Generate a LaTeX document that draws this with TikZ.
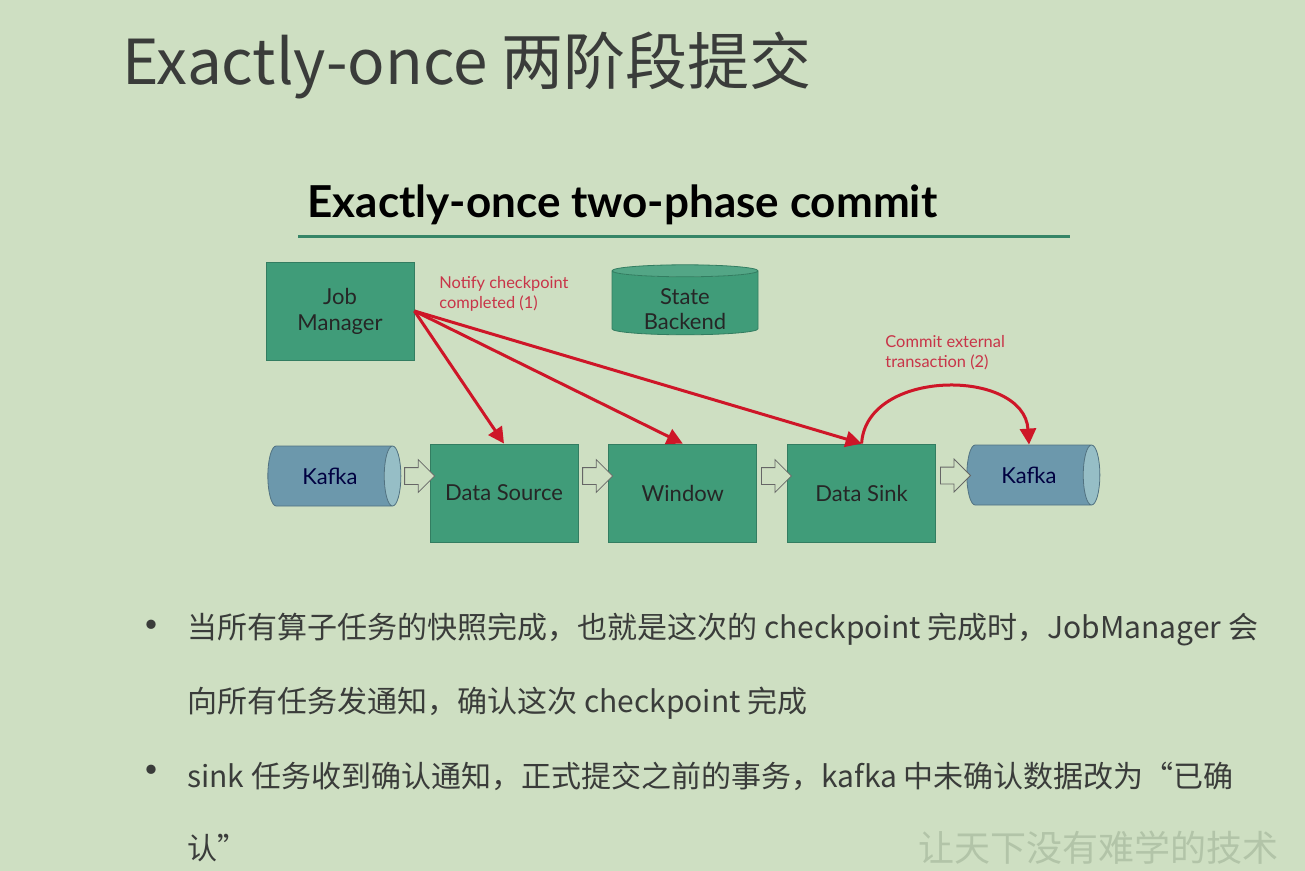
\documentclass[tikz,border=0pt]{standalone}
\usepackage{fontspec}
\setmainfont{Lato}
\newfontfamily\cjk{Noto Sans CJK SC}
\usetikzlibrary{calc,positioning,shapes.geometric,shapes.arrows,arrows.meta}
\definecolor{slidebg}{RGB}{206,223,194}
\definecolor{jobgreen}{RGB}{64,156,121}
\definecolor{kafkablue}{RGB}{108,152,172}
\definecolor{kafkaend}{RGB}{150,190,198}
\definecolor{notifyred}{RGB}{206,22,40}
\definecolor{labelred}{RGB}{200,52,72}
\definecolor{titlegrey}{RGB}{58,60,58}
\definecolor{wmgrey}{RGB}{178,196,168}

\begin{document}
\begin{tikzpicture}[x=0.5pt, y=-0.5pt,
  node distance = 15pt,
  box/.style    = {rectangle, draw=jobgreen!80!black, fill=jobgreen, minimum width=74pt, minimum height=49pt, inner sep=0pt, align=center, text=black!85, font=\fontsize{11}{13}\selectfont},
  kafka/.style  = {cylinder, draw=kafkablue!75!black, cylinder uses custom fill, cylinder body fill=kafkablue, cylinder end fill=kafkaend, aspect=1, minimum width=30pt, minimum height=66.5pt, inner sep=0pt, text=black!75!blue, font=\fontsize{11}{13}\selectfont},
  store/.style  = {cylinder, shape border rotate=90, draw=jobgreen!80!black, cylinder uses custom fill, cylinder body fill=jobgreen, cylinder end fill=jobgreen!90!white, aspect=0.12, minimum width=73pt, minimum height=35pt, text width=50pt, inner sep=0pt},
  storetext/.style = {align=center, inner sep=0pt, text=black!85, font=\fontsize{11}{12.5}\selectfont},
  hollow/.style = {single arrow, draw=black!60, fill=slidebg, minimum height=15pt, single arrow head extend=4pt, inner xsep=0pt, inner ysep=4pt},
  notify/.style = {draw=notifyred, line width=1.5pt, -{Triangle[length=8pt, width=8pt]}},
  redlabel/.style = {anchor=north west, align=left, text=labelred, inner sep=0pt, font=\fontsize{8.2}{10}\selectfont},
  line/.style   = {anchor=west, inner sep=0pt, text=titlegrey, font=\cjk\fontsize{15}{18}\selectfont},
  dot/.style    = {inner sep=0pt, text=titlegrey, font=\cjk\fontsize{22}{22}\selectfont},
  ]
  \useasboundingbox[fill=slidebg] (0,0) rectangle (1305,871);
  % titles
  \node[anchor=base west, inner sep=0pt, text=titlegrey, font=\cjk\fontsize{31}{36}\selectfont] (title) at (122,85) {Exactly-once 两阶段提交};
  \node[anchor=base west, inner sep=0pt, font=\bfseries\fontsize{22}{26}\selectfont] (heading) at (307,218) {Exactly-once two-phase commit};
  \draw[jobgreen!85!black, line width=1.5pt] (298,237) -- (1070,237);
  % job manager and state backend
  \node[box] (jm) at (340,311) {Job\\Manager};
  \node[store] (state) at (685,303) {};
  \node[storetext] (statetxt) at (685,309) {State\\Backend};
  % pipeline
  \node[box] (src) at (504,493) {Data Source};
  \node[box, right=of src] (win) {Window};
  \node[box, right=of win] (sink) {Data Sink};
  \node[kafka] (kin) at (330,476) {Kafka};
  \node[kafka] (kout) at (1029,475) {Kafka};
  \node[hollow] (a1) at ($(kin.east)!0.5!(kin.east -| src.west)$) {};
  \node[hollow] (a2) at ($(src.east |- kin.east)!0.5!(win.west |- kin.east)$) {};
  \node[hollow] (a3) at ($(win.east |- kin.east)!0.5!(sink.west |- kin.east)$) {};
  \node[hollow] (a4) at ($(sink.east |- kin.east)!0.5!(kout.west)$) {};
  % notifications
  \draw[notify] (jm.east) -- (src.north);
  \draw[notify] (jm.east) -- (win.north);
  \draw[notify] (jm.east) -- (sink.north);
  \draw[notify] (sink.north) .. controls (866,368) and (1024,368) .. (kout.north);
  \node[redlabel] (notifytxt) at (439,276) {Notify checkpoint\\completed (1)};
  \node[redlabel] (committxt) at (885,335) {Commit external\\transaction (2)};
  % bullets
  \node[dot] (dot1) at (151,631) {•};
  \node[dot] (dot2) at (151,776) {•};
  \node[line] (l1) at (187,630) {当所有算子任务的快照完成，也就是这次的 checkpoint 完成时，JobManager 会};
  \node[line] (l2) at (187,703) {向所有任务发通知，确认这次 checkpoint 完成};
  \node[line] (l3) at (187,776) {sink 任务收到确认通知，正式提交之前的事务，kafka 中未确认数据改为“已确};
  \node[line] (l4) at (187,848) {认”};
  % watermark
  \node[inner sep=0pt, text=wmgrey, font=\cjk\fontsize{18}{18}\selectfont] (wm) at (1098,848) {让天下没有难学的技术};
\end{tikzpicture}
\end{document}
